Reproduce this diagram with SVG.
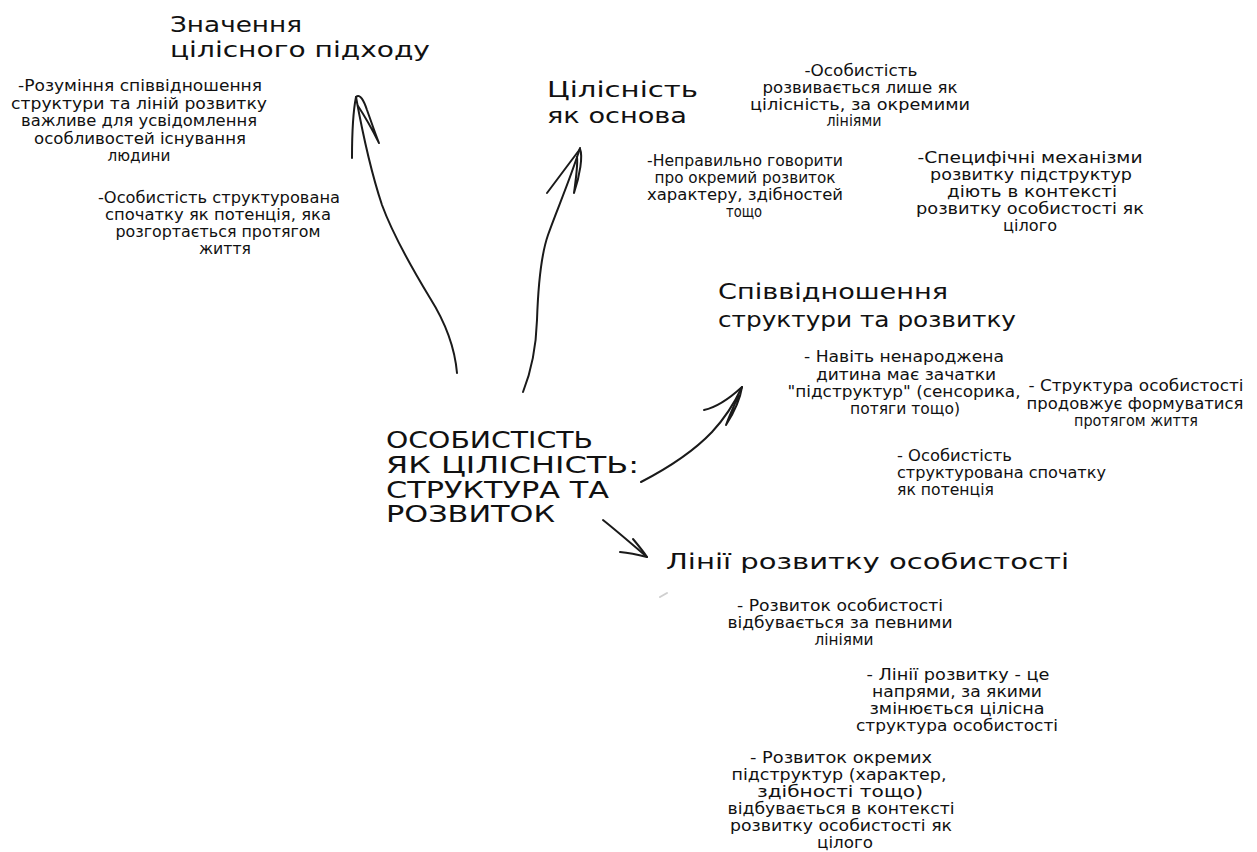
<svg xmlns="http://www.w3.org/2000/svg" width="1257" height="852" viewBox="0 0 1257 852">
<style>
text{font-family:"DejaVu Sans","Liberation Sans",sans-serif;fill:#111;}
.t{font-size:22px;}
.c{font-size:23px;}
.b{font-size:15px;text-anchor:middle;}
.bl{font-size:15px;}
.ar{fill:none;stroke:#1a1a1a;stroke-width:2;stroke-linecap:round;stroke-linejoin:round;}
</style>
<rect width="1257" height="852" fill="#ffffff"/>
<g id="connectors">
<path class="ar" d="M457,373 C455,350 447,325 430,298 C410,265 393,235 382,205 C372,175 362,130 356,97"/>
<path class="ar" d="M352,158 C352,135 353,112 356,97 C360,93 364,101 367,110 C371,121 375,133 379,143 C373,131 366,118 358,106"/>
<path class="ar" d="M523,392 C531,372 536,350 537,320 C538,290 541,255 548,235 C556,212 570,180 580,148"/>
<path class="ar" d="M547,193 C556,181 568,165 580,149 C583,156 580,175 574,193 C576,178 578,165 577,157"/>
<path class="ar" d="M641,482 C668,468 693,452 712,432 C725,418 735,402 742,387"/>
<path class="ar" d="M704,410 C718,407 730,398 742,387 C740,400 733,414 726,425 C730,414 735,404 738,396"/>
<path class="ar" d="M603,520 C618,532 633,545 647,557"/>
<path class="ar" d="M620,552 C630,553 639,555 647,557 C643,551 638,545 633,539"/>
<path d="M660,597 L667,593" stroke="#cfcfcf" stroke-width="2" stroke-linecap="round"/>
</g>
<g id="center">
<text class="c" x="386" y="448" textLength="207" lengthAdjust="spacingAndGlyphs">ОСОБИСТІСТЬ</text>
<text class="c" x="386" y="473" textLength="253" lengthAdjust="spacingAndGlyphs">ЯК ЦІЛІСНІСТЬ:</text>
<text class="c" x="386" y="498" textLength="223" lengthAdjust="spacingAndGlyphs">СТРУКТУРА ТА</text>
<text class="c" x="386" y="522" textLength="169" lengthAdjust="spacingAndGlyphs">РОЗВИТОК</text>
</g>
<g id="node-znachennia">
<text class="t" x="170" y="32" textLength="132" lengthAdjust="spacingAndGlyphs">Значення</text>
<text class="t" x="170" y="57" textLength="260" lengthAdjust="spacingAndGlyphs">цілісного підходу</text>
<text class="b" x="140" y="91" textLength="244" lengthAdjust="spacingAndGlyphs">-Розуміння співвідношення</text>
<text class="b" x="139" y="109" textLength="256" lengthAdjust="spacingAndGlyphs">структури та ліній розвитку</text>
<text class="b" x="139" y="126" textLength="236" lengthAdjust="spacingAndGlyphs">важливе для усвідомлення</text>
<text class="b" x="140" y="144" textLength="212" lengthAdjust="spacingAndGlyphs">особливостей існування</text>
<text class="b" x="139" y="161" textLength="63" lengthAdjust="spacingAndGlyphs">людини</text>
<text class="b" x="219" y="203" textLength="242" lengthAdjust="spacingAndGlyphs">-Особистість структурована</text>
<text class="b" x="218" y="220" textLength="226" lengthAdjust="spacingAndGlyphs">спочатку як потенція, яка</text>
<text class="b" x="218" y="237" textLength="205" lengthAdjust="spacingAndGlyphs">розгортається протягом</text>
<text class="b" x="225" y="254" textLength="52" lengthAdjust="spacingAndGlyphs">життя</text>
</g>
<g id="node-tsilisnist">
<text class="t" x="547" y="97" textLength="151" lengthAdjust="spacingAndGlyphs">Цілісність</text>
<text class="t" x="547" y="123" textLength="140" lengthAdjust="spacingAndGlyphs">як основа</text>
<text class="b" x="861" y="76" textLength="113" lengthAdjust="spacingAndGlyphs">-Особистість</text>
<text class="b" x="860" y="93" textLength="195" lengthAdjust="spacingAndGlyphs">розвивається лише як</text>
<text class="b" x="860" y="110" textLength="220" lengthAdjust="spacingAndGlyphs">цілісність, за окремими</text>
<text class="b" x="854" y="126" textLength="55" lengthAdjust="spacingAndGlyphs">лініями</text>
<text class="b" x="745" y="166" textLength="196" lengthAdjust="spacingAndGlyphs">-Неправильно говорити</text>
<text class="b" x="745" y="183" textLength="181" lengthAdjust="spacingAndGlyphs">про окремий розвиток</text>
<text class="b" x="745" y="200" textLength="196" lengthAdjust="spacingAndGlyphs">характеру, здібностей</text>
<text class="b" x="744" y="217" textLength="36" lengthAdjust="spacingAndGlyphs">тощо</text>
<text class="b" x="1030" y="163" textLength="225" lengthAdjust="spacingAndGlyphs">-Специфічні механізми</text>
<text class="b" x="1031" y="180" textLength="202" lengthAdjust="spacingAndGlyphs">розвитку підструктур</text>
<text class="b" x="1032" y="197" textLength="170" lengthAdjust="spacingAndGlyphs">діють в контексті</text>
<text class="b" x="1030" y="214" textLength="228" lengthAdjust="spacingAndGlyphs">розвитку особистості як</text>
<text class="b" x="1030" y="231" textLength="54" lengthAdjust="spacingAndGlyphs">цілого</text>
</g>
<g id="node-spivvidnoshennia">
<text class="t" x="718" y="299" textLength="230" lengthAdjust="spacingAndGlyphs">Співвідношення</text>
<text class="t" x="718" y="327" textLength="298" lengthAdjust="spacingAndGlyphs">структури та розвитку</text>
<text class="b" x="904" y="362" textLength="200" lengthAdjust="spacingAndGlyphs">- Навіть ненароджена</text>
<text class="b" x="906" y="380" textLength="180" lengthAdjust="spacingAndGlyphs">дитина має зачатки</text>
<text class="b" x="904" y="397" textLength="233" lengthAdjust="spacingAndGlyphs">"підструктур" (сенсорика,</text>
<text class="b" x="905" y="414" textLength="110" lengthAdjust="spacingAndGlyphs">потяги тощо)</text>
<text class="b" x="1136" y="391" textLength="215" lengthAdjust="spacingAndGlyphs">- Структура особистості</text>
<text class="b" x="1135" y="409" textLength="217" lengthAdjust="spacingAndGlyphs">продовжує формуватися</text>
<text class="b" x="1136" y="426" textLength="124" lengthAdjust="spacingAndGlyphs">протягом життя</text>
<text class="bl" x="897" y="461" textLength="115" lengthAdjust="spacingAndGlyphs">- Особистість</text>
<text class="bl" x="897" y="478" textLength="209" lengthAdjust="spacingAndGlyphs">структурована спочатку</text>
<text class="bl" x="897" y="495" textLength="97" lengthAdjust="spacingAndGlyphs">як потенція</text>
</g>
<g id="node-linii">
<text class="t" x="666" y="569" textLength="403" lengthAdjust="spacingAndGlyphs">Лінії розвитку особистості</text>
<text class="b" x="840" y="611" textLength="206" lengthAdjust="spacingAndGlyphs">- Розвиток особистості</text>
<text class="b" x="840" y="628" textLength="225" lengthAdjust="spacingAndGlyphs">відбувається за певними</text>
<text class="b" x="844" y="645" textLength="59" lengthAdjust="spacingAndGlyphs">лініями</text>
<text class="b" x="958" y="680" textLength="183" lengthAdjust="spacingAndGlyphs">- Лінії розвитку - це</text>
<text class="b" x="957" y="697" textLength="170" lengthAdjust="spacingAndGlyphs">напрями, за якими</text>
<text class="b" x="957" y="714" textLength="175" lengthAdjust="spacingAndGlyphs">змінюється цілісна</text>
<text class="b" x="957" y="731" textLength="202" lengthAdjust="spacingAndGlyphs">структура особистості</text>
<text class="b" x="841" y="763" textLength="182" lengthAdjust="spacingAndGlyphs">- Розвиток окремих</text>
<text class="b" x="839" y="780" textLength="215" lengthAdjust="spacingAndGlyphs">підструктур (характер,</text>
<text class="b" x="840" y="797" textLength="166" lengthAdjust="spacingAndGlyphs">здібності тощо)</text>
<text class="b" x="841" y="814" textLength="227" lengthAdjust="spacingAndGlyphs">відбувається в контексті</text>
<text class="b" x="841" y="831" textLength="222" lengthAdjust="spacingAndGlyphs">розвитку особистості як</text>
<text class="b" x="845" y="848" textLength="56" lengthAdjust="spacingAndGlyphs">цілого</text>
</g>
</svg>
